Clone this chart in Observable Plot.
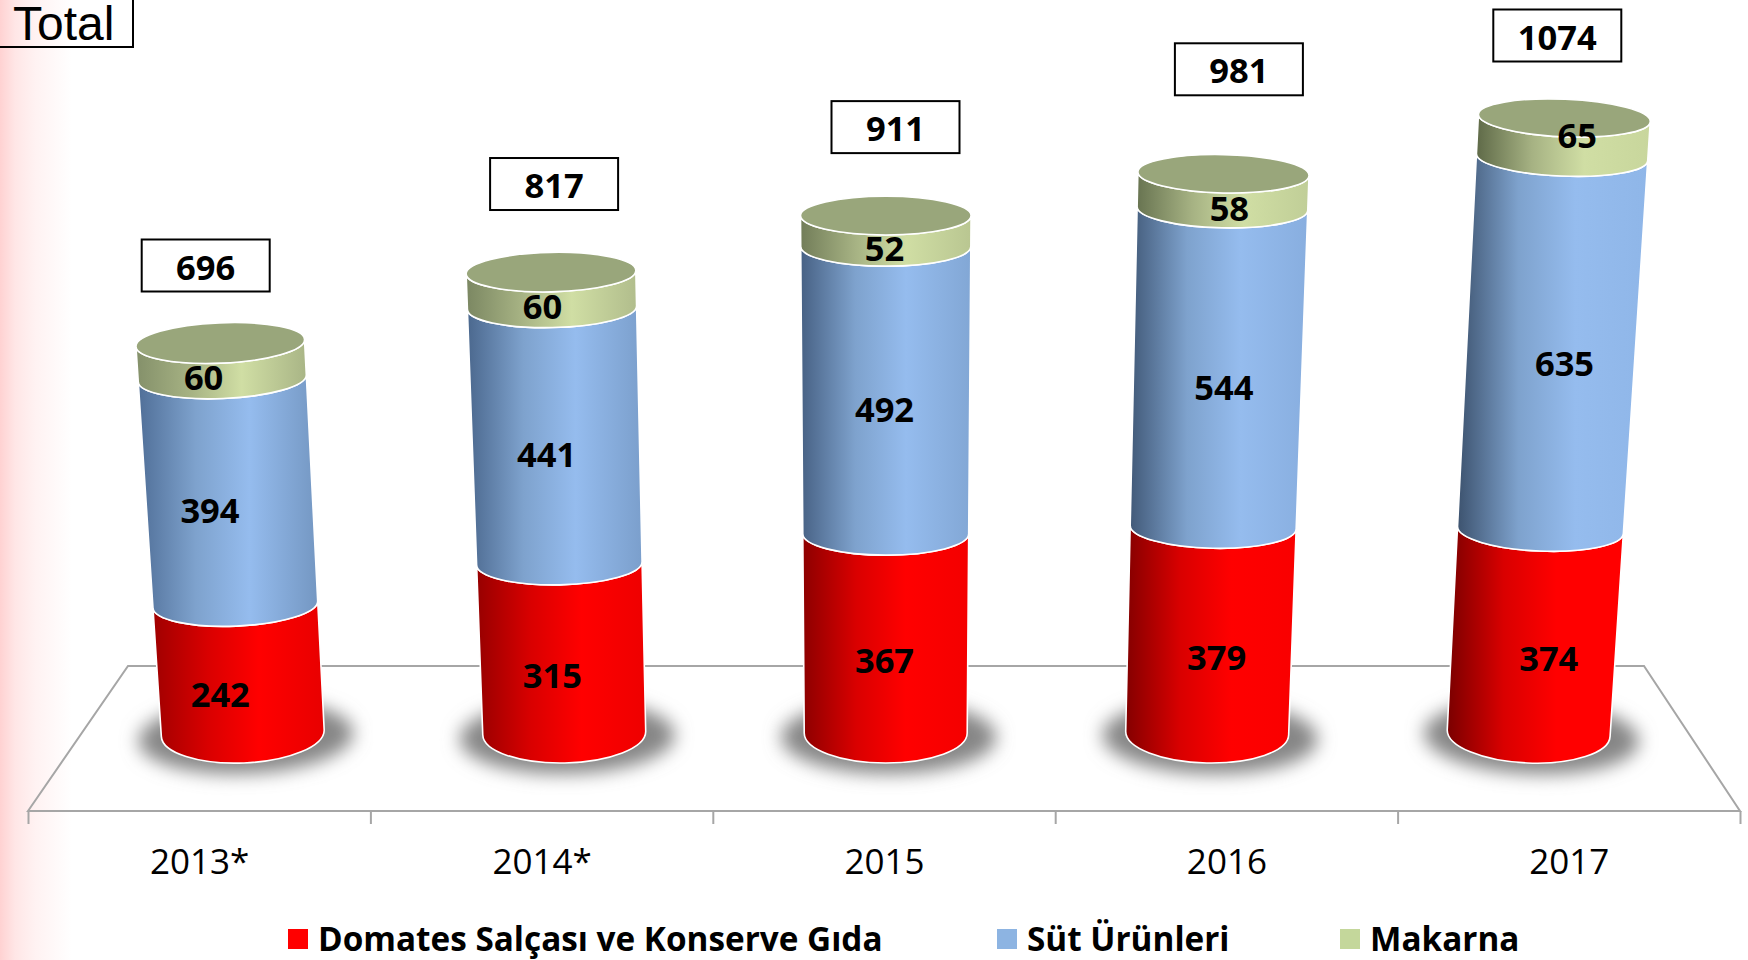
<!DOCTYPE html>
<html><head><meta charset="utf-8">
<script src="https://cdn.jsdelivr.net/npm/d3@7"></script>
<script src="https://cdn.jsdelivr.net/npm/@observablehq/plot@0.6"></script>
<style>
html,body{margin:0;padding:0;width:1748px;height:960px;overflow:hidden;background:linear-gradient(to right,#ffd2d2 0,#ffe6e6 15px,#fff2f2 35px,#fff 72px);font-family:"Open Sans",sans-serif}
#wrap{position:relative;width:1748px;height:960px}
#title{position:absolute;left:0;top:-1px;width:132px;height:47px;border-right:2px solid #000;border-bottom:2px solid #000;font:48px/50px "Liberation Sans",sans-serif;text-align:left;text-indent:13px;box-sizing:content-box;color:#000}
.lg{position:absolute;top:915px;height:46px;line-height:46px;font-weight:700;font-size:33.3px;color:#000;white-space:nowrap}
.sw{position:absolute;top:929px;width:20px;height:20px}
svg{display:block}
</style></head><body><div id="wrap"></div>
<script>
const years = ["2013*", "2014*", "2015", "2016", "2017"];
const domates = [242, 315, 367, 379, 374];
const sut = [394, 441, 492, 544, 635];
const makarna = [60, 60, 52, 58, 65];
const totals = [696, 817, 911, 981, 1074];
const seriesNames = ["Domates Salçası ve Konserve Gıda", "Süt Ürünleri", "Makarna"];

const idx = years.map((_, i) => i);
const row = (arr, below, key) => idx.map(i => ({i, key, value: arr[i], y1: below[i], y2: below[i] + arr[i]}));
const zero = idx.map(() => 0);
const redRows = row(domates, zero, "r");
const blueRows = row(sut, domates, "b");
const greenRows = row(makarna, domates.map((d, i) => d + sut[i]), "g");

// cylinder look
const K = 9e-5, halfW = 0.238, lean = 0.0611, nudge = 0.005;
const shades = {
  r: {l: ["#a00000", "#7a0000"], m1: "#d90000", m2: "#ff0000", e: ["#e80000", "#ff0000"]},
  b: {l: ["#506f98", "#3d536f"], m1: "#7ea2cd", m2: "#95bcee", e: ["#7497c2", "#8fb6e8"]},
  g: {l: ["#84906a", "#5f6a48"], m1: "#a6b283", m2: "#d0dea4", e: ["#a9b586", "#c8d69c"]}
};
const defsMark = () => {
  const d = d3.create("svg:defs");
  for (const k of Object.keys(shades)) for (const i of idx) {
    const s = shades[k], t = i / 4;
    const g = d.append("linearGradient").attr("id", `g${k}${i}`);
    [[0, d3.interpolateRgb(s.l[0], s.l[1])(t)], [.32, s.m1], [.62, s.m2], [1, d3.interpolateRgb(s.e[0], s.e[1])(t)]]
      .forEach(([o, c]) => g.append("stop").attr("offset", o).attr("stop-color", c));
  }
  d.append("filter").attr("id", "blur").attr("x", "-30%").attr("y", "-60%").attr("width", "160%").attr("height", "220%")
    .append("feGaussianBlur").attr("stdDeviation", 9);
  return d.node();
};

const floorMark = (_i, {x, y}, _v, dims) => {
  const [l, r] = x.range(), front = dims.height - dims.marginBottom, back = y(0) - 67;
  return d3.create("svg:path")
    .attr("d", `M${l},${front}L${l + 100},${back}L${r - 96},${back}L${r},${front}Z`)
    .attr("fill", "none").attr("stroke", "#a6a6a6").attr("stroke-width", 2).node();
};

const cylinder = (rows, withShadow, withCap) => (index, {x, y}, values) => {
  const g = d3.create("svg:g"), c = x(2), y0 = y(0);
  const ring = (cx, hw, v) => {
    const yc = v, h = y0 - yc, sc = 1 + K * h;
    const mx = c + (cx - c) * sc, a = hw * sc;
    const rot = (cx - c) / 646 * 2.4, rad = rot * Math.PI / 180;
    const b = h < 1 ? 30 : 22.5 - 0.006 * h;
    return {mx, yc, a, b, rot, lx: mx - a * Math.cos(rad), ly: yc - a * Math.sin(rad), rx: mx + a * Math.cos(rad), ry: yc + a * Math.sin(rad)};
  };
  for (const i of index) {
    const cx = (values.x1[i] + values.x2[i]) / 2, hw = Math.abs(values.x2[i] - values.x1[i]) / 2;
    const lo = ring(cx, hw, values.y1[i]), hi = ring(cx, hw, values.y2[i]);
    if (withShadow) g.append("ellipse").attr("cx", lo.mx + 3).attr("cy", lo.yc + 4).attr("rx", lo.a + 26).attr("ry", 37)
      .attr("transform", `rotate(${lo.rot} ${lo.mx} ${lo.yc})`)
      .attr("fill", "#868686").attr("filter", "url(#blur)");
    g.append("path")
      .attr("d", `M${lo.lx},${lo.ly}A${lo.a},${lo.b} ${lo.rot} 0 0 ${lo.rx},${lo.ry}L${hi.rx},${hi.ry}A${hi.a},${hi.b} ${hi.rot} 0 1 ${hi.lx},${hi.ly}Z`)
      .attr("fill", `url(#g${rows[i].key}${rows[i].i})`).attr("stroke", "#fff").attr("stroke-width", 1.6);
    if (withCap) g.append("ellipse").attr("cx", hi.mx).attr("cy", hi.yc).attr("rx", hi.a).attr("ry", hi.b)
      .attr("transform", `rotate(${hi.rot} ${hi.mx} ${hi.yc})`)
      .attr("fill", "#99a67b").attr("stroke", "#fff").attr("stroke-width", 1.6);
  }
  return g.node();
};
const bars = (rows, shadow, cap) => Plot.rect(rows, {
  x1: d => d.i + (2 - d.i) * lean + nudge - halfW,
  x2: d => d.i + (2 - d.i) * lean + nudge + halfW,
  y1: "y1", y2: "y2",
  render: cylinder(rows, shadow, cap)
});
const labelFont = {fontFamily: "Open Sans", fontWeight: 700, fontSize: 34.5, fill: "#000"};
const labels = (rows, f, dy) => Plot.text(rows, {
  x: d => d.i + (2 - d.i) * f(d.i), y: d => (d.y1 + d.y2) / 2, text: d => String(d.value), dy, ...labelFont
});

// hand-placed total boxes
const boxDx = [6, 12, 11, 12, -12], boxLift = [77, 87, 88, 104, 82];
const totalBoxes = Plot.text(idx, {
  x: i => i, y: i => totals[i], text: i => String(totals[i]), ...labelFont,
  render(index, scales, values, dims, ctx, next) {
    const X = Array.from(values.x, (v, k) => v + boxDx[k]);
    const Y = Array.from(values.y, (v, k) => v - boxLift[k]);
    const node = next(index, scales, {...values, x: X, y: Y.map(v => v + 2)}, dims, ctx);
    for (const i of index) {
      const r = document.createElementNS("http://www.w3.org/2000/svg", "rect");
      r.setAttribute("x", X[i] - 64); r.setAttribute("y", Y[i] - 27);
      r.setAttribute("width", 128); r.setAttribute("height", 52);
      r.setAttribute("fill", "#fff"); r.setAttribute("stroke", "#000"); r.setAttribute("stroke-width", 2);
      node.insertBefore(r, node.firstChild);
    }
    return node;
  }
});

const chart = Plot.plot({
  width: 1748, height: 905,
  marginTop: 0, marginRight: 0, marginLeft: 0, marginBottom: 94,
  style: {background: "transparent", fontFamily: "Open Sans"},
  x: {type: "linear", domain: [-0.5, 4.5], range: [28, 1740], axis: null},
  y: {type: "pow", exponent: 1.05, domain: [0, 1074], range: [733, 118], axis: null},
  marks: [
    defsMark,
    floorMark,
    Plot.axisX({ticks: [-0.5, 0.5, 1.5, 2.5, 3.5, 4.5], tickSize: 13, tickFormat: () => "", stroke: "#a6a6a6", strokeWidth: 2, label: null}),
    Plot.axisX({ticks: idx, tickSize: 0, tickPadding: 38, tickFormat: i => years[i], fontSize: 35, fill: "#000", label: null}),
    bars(redRows, true, false),
    bars(blueRows, false, false),
    bars(greenRows, false, true),
    labels(redRows, () => 0.03, 25),
    labels(blueRows, i => 0.015 - 0.002 * i, 19),
    labels(greenRows.slice(0, 4), i => 0.0057 - 0.0043 * i, 18),
    labels(greenRows.slice(4), i => 0.0057 - 0.0043 * i, -1),
    totalBoxes
  ]
});
const wrap = document.getElementById("wrap");
wrap.appendChild(chart);
const title = document.createElement("div");
title.id = "title"; title.textContent = "Total"; wrap.appendChild(title);
const legendColors = ["#ff0000", "#8db4e2", "#c4d79b"], legendX = [288, 997, 1340];
seriesNames.forEach((n, i) => {
  const s = document.createElement("div"); s.className = "sw";
  s.style.left = legendX[i] + "px"; s.style.background = legendColors[i]; wrap.appendChild(s);
  const t = document.createElement("div"); t.className = "lg"; t.textContent = n;
  t.style.left = (legendX[i] + 30) + "px"; wrap.appendChild(t);
});
</script></body></html>
